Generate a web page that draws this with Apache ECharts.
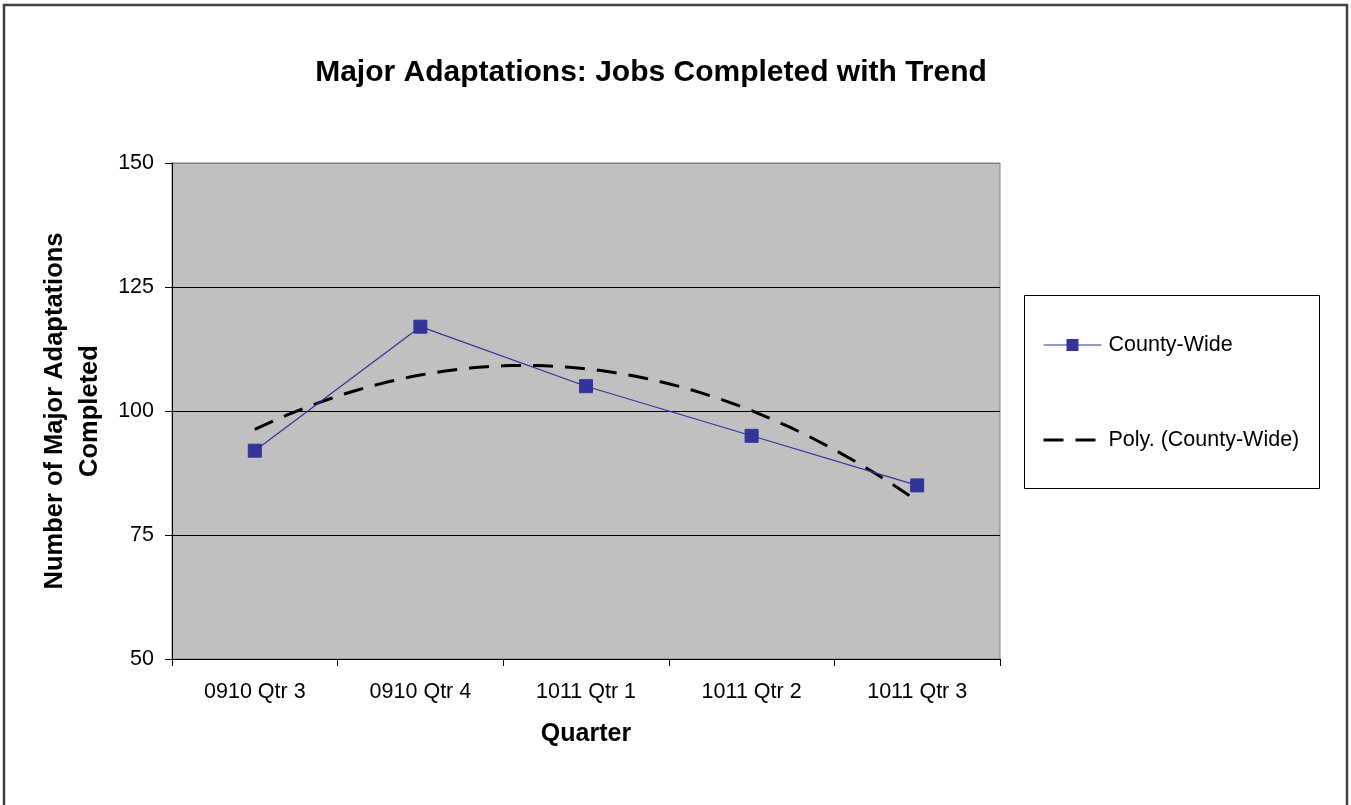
<!DOCTYPE html>
<html>
<head>
<meta charset="utf-8">
<title>Major Adaptations: Jobs Completed with Trend</title>
<script src="https://cdn.jsdelivr.net/npm/echarts@6/dist/echarts.min.js"></script>
<style>
  html, body { margin: 0; padding: 0; background: #ffffff; }
  #chart { width: 1351px; height: 805px; }
</style>
</head>
<body>
<div id="chart"></div>
<script>
// Quarterly jobs completed, county-wide
const quarters = ['0910 Qtr 3', '0910 Qtr 4', '1011 Qtr 1', '1011 Qtr 2', '1011 Qtr 3'];
const countyWide = [92, 117, 105, 95, 85];
const yTicks = { min: 50, max: 150, interval: 25 };

// Second-order least-squares trend through the quarterly values
function polyFit2(ys) {
  const n = ys.length;
  let s = [0, 0, 0, 0, 0], t = [0, 0, 0];
  for (let i = 0; i < n; i++) {
    const x = i + 1;
    for (let k = 0; k <= 4; k++) s[k] += Math.pow(x, k);
    for (let k = 0; k <= 2; k++) t[k] += ys[i] * Math.pow(x, k);
  }
  // Solve the 3x3 normal equations by Gaussian elimination
  const A = [[s[0], s[1], s[2], t[0]], [s[1], s[2], s[3], t[1]], [s[2], s[3], s[4], t[2]]];
  for (let c = 0; c < 3; c++) {
    for (let r = c + 1; r < 3; r++) {
      const f = A[r][c] / A[c][c];
      for (let k = c; k < 4; k++) A[r][k] -= f * A[c][k];
    }
  }
  const coef = [0, 0, 0];
  for (let r = 2; r >= 0; r--) {
    let v = A[r][3];
    for (let k = r + 1; k < 3; k++) v -= A[r][k] * coef[k];
    coef[r] = v / A[r][r];
  }
  return coef;
}
const trendCoef = polyFit2(countyWide);
const trendPoints = [];
for (let i = 0; i <= 80; i++) {
  const x = 1 + i * (countyWide.length - 1) / 80;
  trendPoints.push([x, trendCoef[0] + trendCoef[1] * x + trendCoef[2] * x * x]);
}

const FONT = 'Liberation Sans, Arial, sans-serif';
const chart = echarts.init(document.getElementById('chart'), null, { renderer: 'canvas' });

chart.setOption({
  backgroundColor: '#ffffff',
  animation: false,
  title: {
    text: 'Major Adaptations: Jobs Completed with Trend',
    left: 646,
    textAlign: 'center',
    top: 53,
    textStyle: { fontFamily: FONT, fontSize: 30, fontWeight: 'bold', color: '#000000' }
  },
  graphic: [
    {
      type: 'rect',
      shape: { x: 4, y: 5, width: 1343, height: 820 },
      style: { fill: null, stroke: '#404040', lineWidth: 2.5 },
      silent: true, z: -1
    },
    {
      type: 'rect',
      shape: { x: 1024.5, y: 295.5, width: 295, height: 193 },
      style: { fill: '#ffffff', stroke: '#000000', lineWidth: 1 },
      silent: true, z: 0
    }
  ],
  legend: {
    orient: 'vertical',
    left: 1042,
    top: 334,
    itemWidth: 58,
    itemHeight: 15,
    itemGap: 73,
    padding: 0,
    z: 5,
    textStyle: { fontFamily: FONT, fontSize: 21.5, color: '#000000', padding: [0, 0, 0, 2] },
    data: [
      { name: 'County-Wide', lineStyle: { width: 1.2 } },
      { name: 'Poly. (County-Wide)', itemStyle: { opacity: 0 }, lineStyle: { width: 3 } }
    ]
  },
  grid: {
    left: 172, top: 163, right: 351, bottom: 146,
    show: true,
    backgroundColor: '#c0c0c0',
    borderColor: '#808080',
    borderWidth: 1
  },
  xAxis: [
    {
      type: 'category',
      data: quarters,
      boundaryGap: true,
      name: 'Quarter',
      nameLocation: 'middle',
      nameGap: 63,
      nameTextStyle: { fontFamily: FONT, fontSize: 25, fontWeight: 'bold', color: '#000000' },
      axisLine: { lineStyle: { color: '#000000', width: 1 } },
      axisTick: { show: true, length: 7, lineStyle: { color: '#000000' } },
      axisLabel: { fontFamily: FONT, fontSize: 21.5, color: '#000000', margin: 22 },
      splitLine: { show: false }
    },
    {
      type: 'value',
      min: 0.5, max: 5.5,
      show: false
    }
  ],
  yAxis: {
    type: 'value',
    min: yTicks.min, max: yTicks.max, interval: yTicks.interval,
    name: 'Number of Major Adaptations\nCompleted',
    nameLocation: 'middle',
    nameGap: 63,
    nameTextStyle: { fontFamily: FONT, fontSize: 25.5, fontWeight: 'bold', color: '#000000', lineHeight: 35 },
    axisLine: { show: true, lineStyle: { color: '#000000', width: 1 } },
    axisTick: { show: true, length: 7, lineStyle: { color: '#000000' } },
    axisLabel: { fontFamily: FONT, fontSize: 21.5, color: '#000000', margin: 18 },
    splitLine: {
      show: true,
      lineStyle: { color: ['#000000', '#000000', '#000000', '#000000', '#808080'], width: 1 }
    }
  },
  series: [
    {
      name: 'County-Wide',
      type: 'line',
      data: countyWide,
      xAxisIndex: 0,
      symbol: 'rect',
      symbolSize: 13,
      itemStyle: { color: '#333399', borderColor: '#333399' },
      lineStyle: { color: '#333399', width: 1.2 },
      z: 4
    },
    {
      name: 'Poly. (County-Wide)',
      type: 'line',
      data: trendPoints,
      xAxisIndex: 1,
      showSymbol: false,
      itemStyle: { color: '#000000' },
      lineStyle: { color: '#000000', width: 3, type: [20, 12] },
      z: 3
    }
  ]
});
</script>
</body>
</html>
